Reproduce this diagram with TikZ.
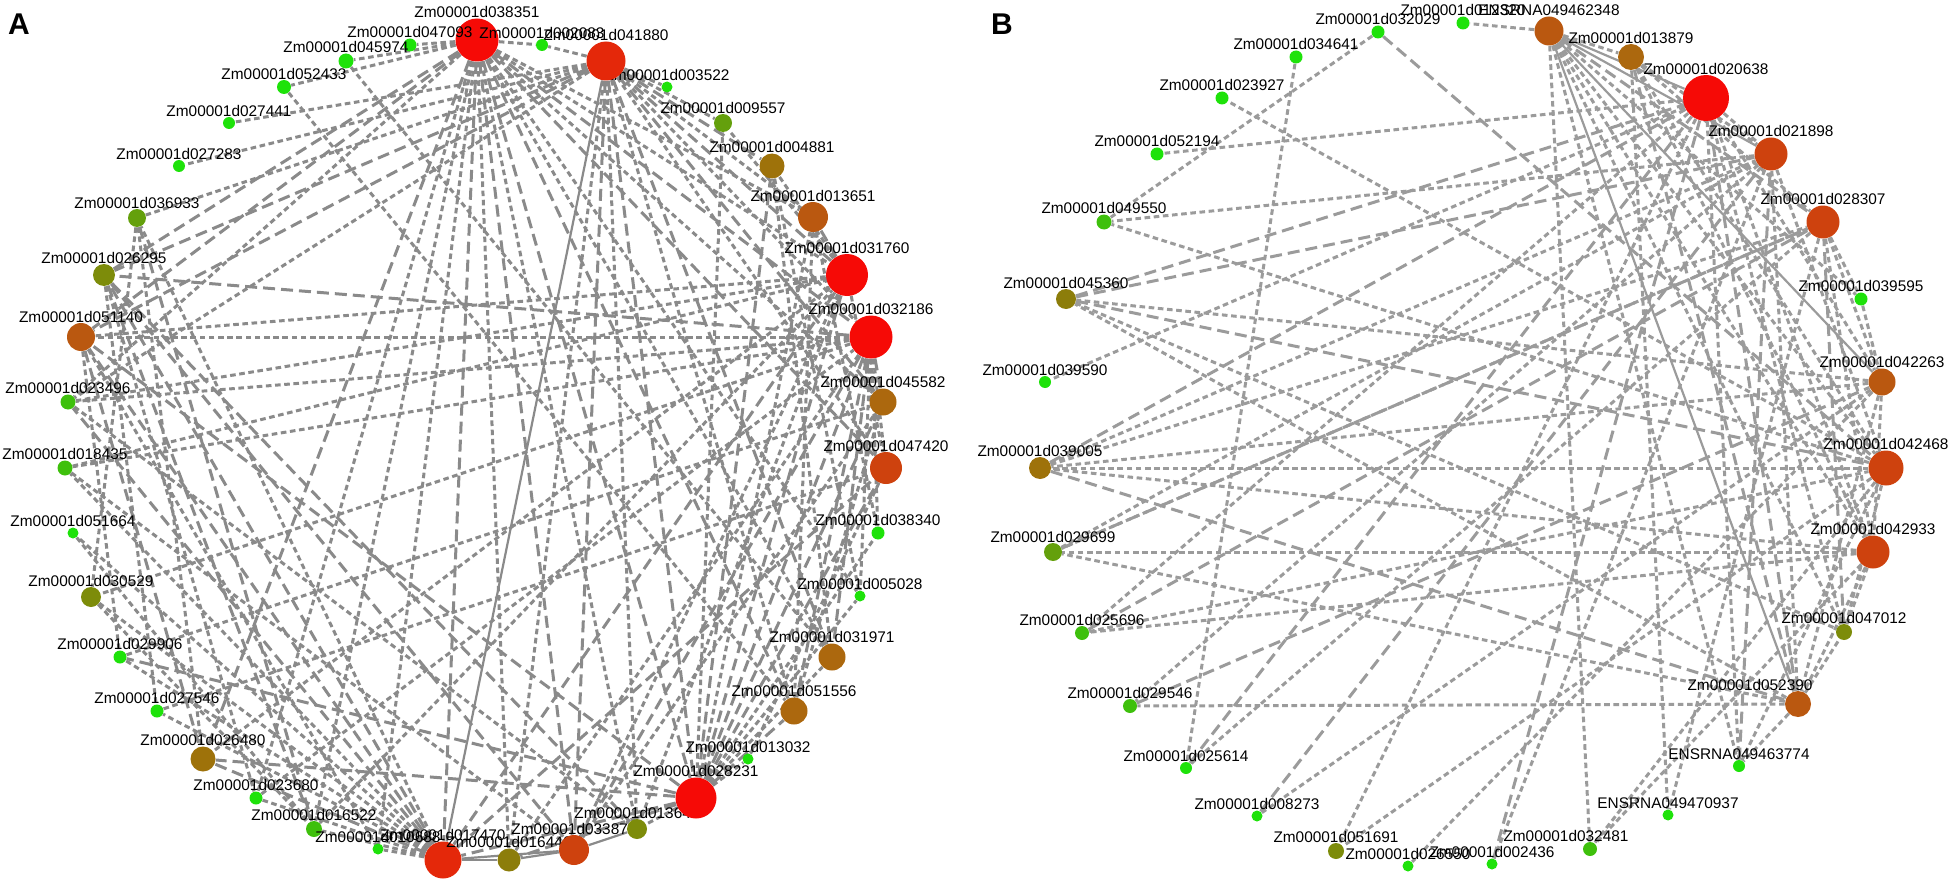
\documentclass[tikz,border=0pt]{standalone}
\usepackage{fontspec}
\setmainfont{Liberation Sans}
\usepackage{tikz}

\definecolor{lv0}{RGB}{30,226,10}
\definecolor{lv1}{RGB}{62,192,12}
\definecolor{lv2}{RGB}{100,160,12}
\definecolor{lv3}{RGB}{125,140,10}
\definecolor{lv4}{RGB}{140,125,10}
\definecolor{lv5}{RGB}{158,114,10}
\definecolor{lv6}{RGB}{172,104,14}
\definecolor{lv7}{RGB}{186,88,16}
\definecolor{lv8}{RGB}{206,66,14}
\definecolor{lv9}{RGB}{228,40,10}
\definecolor{lv10}{RGB}{246,10,6}
\definecolor{edgeA}{RGB}{138,138,138}
\definecolor{edgeB}{RGB}{155,155,155}

\pgfdeclarelayer{bg}
\pgfsetlayers{bg,main}

\begin{document}
\begin{tikzpicture}[x=0.5pt,y=-0.5pt,
  v/.style={circle,inner sep=0pt,draw=none,minimum size=#1*0.5pt},
  lb/.style={font=\fontsize{7.7}{8}\selectfont,inner sep=0pt},
  sd/.style={line width=1.5pt,dash pattern=on 2.8pt off 1.8pt},
  ld/.style={line width=1.5pt,dash pattern=on 6pt off 3pt},
  sl/.style={line width=1.1pt}]
\useasboundingbox (0,0) rectangle (1955,883);
%
\node[font=\fontsize{15}{15}\selectfont\bfseries] (pA) at (19,24) {A};
\node[font=\fontsize{15}{15}\selectfont\bfseries] (pB) at (1002,24) {B};
%
% panel A
\node[v=43,fill=lv10,label={[lb]above:Zm00001d038351}] (a038351) at (477,40) {};
\node[v=13,fill=lv0,label={[lb]above:Zm00001d047093}] (a047093) at (410,45) {};
\node[v=15,fill=lv0,label={[lb]above:Zm00001d045974}] (a045974) at (346,61) {};
\node[v=14,fill=lv0,label={[lb]above:Zm00001d052433}] (a052433) at (284,87) {};
\node[v=12,fill=lv0,label={[lb]above:Zm00001d027441}] (a027441) at (229,123) {};
\node[v=12,fill=lv0,label={[lb]above:Zm00001d027283}] (a027283) at (179,166) {};
\node[v=18,fill=lv2,label={[lb]above:Zm00001d036933}] (a036933) at (137,218) {};
\node[v=22,fill=lv3,label={[lb]above:Zm00001d026295}] (a026295) at (104,275) {};
\node[v=28,fill=lv7,label={[lb]above:Zm00001d051140}] (a051140) at (81,337) {};
\node[v=15,fill=lv1,label={[lb]above:Zm00001d023496}] (a023496) at (68,402) {};
\node[v=15,fill=lv1,label={[lb]above:Zm00001d018435}] (a018435) at (65,468) {};
\node[v=11,fill=lv0,label={[lb]above:Zm00001d051664}] (a051664) at (73,533) {};
\node[v=20,fill=lv3,label={[lb]above:Zm00001d030529}] (a030529) at (91,597) {};
\node[v=13,fill=lv0,label={[lb]above:Zm00001d029906}] (a029906) at (120,657) {};
\node[v=13,fill=lv0,label={[lb]above:Zm00001d027546}] (a027546) at (157,711) {};
\node[v=25,fill=lv5,label={[lb]above:Zm00001d026480}] (a026480) at (203,759) {};
\node[v=13,fill=lv0,label={[lb]above:Zm00001d023680}] (a023680) at (256,798) {};
\node[v=16,fill=lv1,label={[lb]above:Zm00001d016522}] (a016522) at (314,829) {};
\node[v=11,fill=lv0,label={[lb]above:Zm00001d010688}] (a010688) at (378,849) {};
\node[v=37,fill=lv9,label={[lb]above:Zm00001d017470}] (a017470) at (443,860) {};
\node[v=23,fill=lv4,label={[lb]above:Zm00001d016446}] (a016446) at (509,860) {};
\node[v=30,fill=lv8,label={[lb]above:Zm00001d033877}] (a033877) at (574,850) {};
\node[v=20,fill=lv3,label={[lb]above:Zm00001d013647}] (a013647) at (637,829) {};
\node[v=41,fill=lv10,label={[lb]above:Zm00001d028231}] (a028231) at (696,798) {};
\node[v=11,fill=lv0,label={[lb]above:Zm00001d013032}] (a013032) at (748,759) {};
\node[v=27,fill=lv6,label={[lb]above:Zm00001d051556}] (a051556) at (794,711) {};
\node[v=27,fill=lv6,label={[lb]above:Zm00001d031971}] (a031971) at (832,657) {};
\node[v=11,fill=lv0,label={[lb]above:Zm00001d005028}] (a005028) at (860,596) {};
\node[v=13,fill=lv0,label={[lb]above:Zm00001d038340}] (a038340) at (878,533) {};
\node[v=32,fill=lv8,label={[lb]above:Zm00001d047420}] (a047420) at (886,468) {};
\node[v=27,fill=lv6,label={[lb]above:Zm00001d045582}] (a045582) at (883,402) {};
\node[v=43,fill=lv10,label={[lb]above:Zm00001d032186}] (a032186) at (871,337) {};
\node[v=42,fill=lv10,label={[lb]above:Zm00001d031760}] (a031760) at (847,275) {};
\node[v=30,fill=lv7,label={[lb]above:Zm00001d013651}] (a013651) at (813,217) {};
\node[v=25,fill=lv5,label={[lb]above:Zm00001d004881}] (a004881) at (772,166) {};
\node[v=18,fill=lv2,label={[lb]above:Zm00001d009557}] (a009557) at (723,123) {};
\node[v=11,fill=lv0,label={[lb]above:Zm00001d003522}] (a003522) at (667,87) {};
\node[v=39,fill=lv9,label={[lb]above:Zm00001d041880}] (a041880) at (606,61) {};
\node[v=12,fill=lv0,label={[lb]above:Zm00001d002083}] (a002083) at (542,45) {};
%
% panel B
\node[v=13,fill=lv0,label={[lb]above:Zm00001d032029}] (b032029) at (1378,32) {};
\node[v=13,fill=lv0,label={[lb]above:Zm00001d012320}] (b012320) at (1463,23) {};
\node[v=29,fill=lv7,label={[lb]above:ENSRNA049462348}] (b049462348) at (1549,31) {};
\node[v=26,fill=lv6,label={[lb]above:Zm00001d013879}] (b013879) at (1631,57) {};
\node[v=46,fill=lv10,label={[lb]above:Zm00001d020638}] (b020638) at (1706,98) {};
\node[v=33,fill=lv8,label={[lb]above:Zm00001d021898}] (b021898) at (1771,154) {};
\node[v=33,fill=lv8,label={[lb]above:Zm00001d028307}] (b028307) at (1823,222) {};
\node[v=13,fill=lv0,label={[lb]above:Zm00001d039595}] (b039595) at (1861,299) {};
\node[v=27,fill=lv7,label={[lb]above:Zm00001d042263}] (b042263) at (1882,382) {};
\node[v=35,fill=lv8,label={[lb]above:Zm00001d042468}] (b042468) at (1886,468) {};
\node[v=33,fill=lv8,label={[lb]above:Zm00001d042933}] (b042933) at (1873,552) {};
\node[v=16,fill=lv3,label={[lb]above:Zm00001d047012}] (b047012) at (1844,632) {};
\node[v=26,fill=lv7,label={[lb,xshift=-24pt]above:Zm00001d052390}] (b052390) at (1798,704) {};
\node[v=12,fill=lv0,label={[lb]above:ENSRNA049463774}] (b049463774) at (1739,766) {};
\node[v=11,fill=lv0,label={[lb]above:ENSRNA049470937}] (b049470937) at (1668,815) {};
\node[v=14,fill=lv1,label={[lb,xshift=-12pt]above:Zm00001d032481}] (b032481) at (1590,849) {};
\node[v=11,fill=lv0,label={[lb]above:Zm00001d002436}] (b002436) at (1492,864) {};
\node[v=11,fill=lv0,label={[lb]above:Zm00001d026550}] (b026550) at (1408,866) {};
\node[v=16,fill=lv3,label={[lb]above:Zm00001d051691}] (b051691) at (1336,851) {};
\node[v=11,fill=lv0,label={[lb]above:Zm00001d008273}] (b008273) at (1257,816) {};
\node[v=12,fill=lv0,label={[lb]above:Zm00001d025614}] (b025614) at (1186,768) {};
\node[v=14,fill=lv1,label={[lb]above:Zm00001d029546}] (b029546) at (1130,706) {};
\node[v=14,fill=lv1,label={[lb]above:Zm00001d025696}] (b025696) at (1082,633) {};
\node[v=18,fill=lv2,label={[lb]above:Zm00001d029699}] (b029699) at (1053,552) {};
\node[v=22,fill=lv5,label={[lb]above:Zm00001d039005}] (b039005) at (1040,468) {};
\node[v=12,fill=lv0,label={[lb]above:Zm00001d039590}] (b039590) at (1045,382) {};
\node[v=20,fill=lv4,label={[lb]above:Zm00001d045360}] (b045360) at (1066,299) {};
\node[v=15,fill=lv1,label={[lb]above:Zm00001d049550}] (b049550) at (1104,222) {};
\node[v=13,fill=lv0,label={[lb]above:Zm00001d052194}] (b052194) at (1157,154) {};
\node[v=13,fill=lv0,label={[lb]above:Zm00001d023927}] (b023927) at (1222,98) {};
\node[v=13,fill=lv0,label={[lb]above:Zm00001d034641}] (b034641) at (1296,57) {};
%
\begin{pgfonlayer}{bg}
% A: short dashes
\foreach \u/\v in {a038351/a045974,a038351/a047093,a038351/a002083,a038351/a052433,a038351/a023496,a038351/a016446,a038351/a013647,a038351/a031760,a038351/a045582,a038351/a013651,a038351/a031971,a038351/a005028,a038351/a016522,a038351/a023680,a038351/a010688,
  a041880/a002083,a041880/a003522,a041880/a009557,a041880/a013651,a041880/a032186,a041880/a047420,a041880/a051556,a041880/a013647,a041880/a016446,a041880/a027441,a041880/a027283,a041880/a036933,a041880/a023496,
  a031760/a004881,a031760/a009557,a031760/a047420,a031760/a051140,a031760/a023496,a031760/a033877,a031760/a013647,a031760/a026480,
  a032186/a051140,a032186/a023496,a032186/a018435,a032186/a047420,a032186/a038340,a032186/a005028,a032186/a016446,a032186/a030529,
  a028231/a013032,a028231/a031971,a028231/a005028,a028231/a038340,a028231/a013651,a028231/a009557,a028231/a013647,
  a017470/a010688,a017470/a016522,a017470/a023680,a017470/a027546,a017470/a029906,a017470/a030529,a017470/a051664,a017470/a018435,a017470/a036933,
  a045974/a031971,a052433/a051556,a036933/a030529,a036933/a026480,a026295/a023680,a051140/a029906,a051140/a010688,a023496/a013647,a018435/a033877,a029906/a045582,a027546/a047420,a016522/a031760,a051664/a016522,a026295/a027546,
  a013651/a038340,a013651/a051556,a004881/a031971,a004881/a005028,a045582/a051556,a047420/a013032,a033877/a045582,a018435/a031760,a023680/a032186,a030529/a016522}
  \draw[sd,edgeA] (\u) -- (\v);
% A: long dashes
\foreach \u/\v in {a038351/a051140,a038351/a026295,a038351/a017470,a038351/a033877,a038351/a028231,a038351/a032186,a038351/a047420,a038351/a051556,a038351/a026480,
  a041880/a004881,a041880/a031760,a041880/a045582,a041880/a031971,a041880/a028231,a041880/a033877,a041880/a026295,a041880/a051140,
  a031760/a013651,a031760/a028231,a031760/a017470,
  a032186/a026295,a032186/a045582,a032186/a031971,a032186/a051556,a032186/a028231,a032186/a033877,
  a028231/a051556,a028231/a047420,a028231/a045582,a028231/a004881,a028231/a016446,a028231/a017470,a028231/a026480,a028231/a029906,a028231/a051140,
  a017470/a026480,a017470/a023496,a017470/a051140,a017470/a026295,a017470/a047420,
  a026295/a033877,a026295/a016522,a051140/a026480,a036933/a016522,a026295/a013647}
  \draw[ld,edgeA] (\u) -- (\v);
% A: solid
\foreach \u/\v in {a041880/a017470,a017470/a016446,a016446/a033877,a017470/a033877,a033877/a013647}
  \draw[sl,edgeA] (\u) -- (\v);
%
% B: short dashes
\foreach \u/\v in {b049462348/b012320,b049462348/b013879,b049462348/b039595,b049462348/b042468,b049462348/b042933,b049462348/b047012,b049462348/b049463774,b049462348/b032481,
  b013879/b028307,b013879/b042468,b013879/b042933,b013879/b049470937,b013879/b021898,
  b020638/b052194,b020638/b039590,b020638/b021898,b020638/b042263,b020638/b042933,b020638/b047012,b020638/b049463774,b020638/b025696,b020638/b051691,
  b021898/b049550,b021898/b042468,b021898/b052390,b021898/b029546,b021898/b002436,
  b028307/b039595,b028307/b042263,b028307/b042933,b028307/b049470937,b028307/b025614,b028307/b029699,
  b042263/b039005,b042263/b045360,b042263/b042933,b042263/b008273,b042263/b026550,b042263/b052390,
  b042468/b039005,b042468/b049550,b042468/b023927,b042468/b032481,b042468/b051691,b042468/b047012,b042468/b049463774,
  b042933/b029699,b042933/b039005,b042933/b032481,b042933/b052390,b042933/b025696,
  b052390/b029699,b052390/b045360,b052390/b029546,b052390/b049463774,
  b032029/b049550,b034641/b025614,b039005/b028307,b039005/b021898,b045360/b047012,b029699/b021898,b025696/b042468,b039595/b042263,b047012/b042933,b052390/b047012}
  \draw[sd,edgeB] (\u) -- (\v);
% B: long dashes
\foreach \u/\v in {b032029/b042468,b045360/b042468,b045360/b020638,b045360/b021898,b039005/b020638,b039005/b052390,b029699/b028307,b025696/b028307,b029546/b042263,b025614/b020638,b008273/b021898,b002436/b020638,b049463774/b021898,b047012/b028307,b052390/b020638,b049462348/b028307,b013879/b052390}
  \draw[ld,edgeB] (\u) -- (\v);
% B: solid
\foreach \u/\v in {b049462348/b052390,b049462348/b042263,b049462348/b020638,b049462348/b021898}
  \draw[sl,edgeB] (\u) -- (\v);
\end{pgfonlayer}
\end{tikzpicture}
\end{document}
